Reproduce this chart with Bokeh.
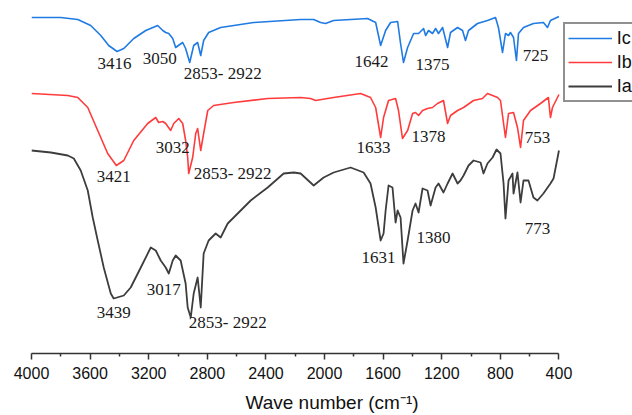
from bokeh.plotting import figure
from bokeh.models import Range1d, FixedTicker, Legend, LegendItem, ColumnDataSource
from bokeh.core.properties import value
from bokeh.embed import file_html
from bokeh.resources import INLINE

# ---- data (wave number, cm-1) and stacked transmittance (a.u.) ----
ic_wn = [4000, 3800, 3684, 3596, 3527, 3473, 3416, 3370, 3302, 3220, 3139, 3104, 3084, 3063, 3036, 3016,
         2988, 2968, 2948, 2920, 2893, 2866, 2845, 2825, 2791, 2709, 2484, 2163, 2074, 2027, 1993, 1938,
         1706, 1651, 1617, 1583, 1549, 1501, 1481, 1461, 1433, 1392, 1358, 1324, 1310, 1290, 1263, 1242,
         1222, 1194, 1160, 1140, 1092, 1058, 1038, 1017, 956, 888, 833, 813, 785, 765, 744, 731, 710, 690,
         676, 642, 574, 506, 478, 458, 400]
ic_t = [336, 336, 334, 328, 318, 308, 302, 305, 315, 323, 328, 323, 321, 320, 315, 306,
        309, 311, 305, 291, 308, 311, 298, 313, 321, 326, 331, 334, 334, 331, 330, 333,
        335, 331, 308, 323, 331, 332, 310, 291, 306, 320, 320, 325, 318, 323, 320, 325,
        320, 326, 306, 321, 326, 323, 313, 323, 330, 333, 336, 326, 301, 320, 318, 321, 316, 293,
        320, 326, 330, 331, 326, 333, 337]

ib_wn = [4000, 3752, 3684, 3616, 3548, 3480, 3421, 3370, 3302, 3207, 3152, 3132, 3104, 3084, 3050, 3029,
         2995, 2968, 2948, 2934, 2927, 2900, 2879, 2866, 2845, 2825, 2797, 2757, 2620, 2388, 2163, 2095,
         2061, 1938, 1754, 1686, 1651, 1617, 1597, 1563, 1515, 1495, 1468, 1433, 1399, 1379, 1358, 1331,
         1297, 1263, 1229, 1188, 1160, 1140, 1092, 1051, 983, 922, 888, 819, 799, 765, 744, 710, 683, 662,
         642, 594, 526, 472, 458, 444, 400]
ib_t = [260, 258, 256, 246, 223, 200, 188, 193, 213, 230, 236, 231, 232, 230, 223, 230,
        235, 230, 213, 196, 180, 196, 220, 225, 203, 220, 243, 248, 251, 255, 256, 255,
        253, 256, 260, 256, 246, 216, 236, 253, 255, 243, 215, 223, 240, 241, 238, 243,
        245, 246, 250, 253, 230, 238, 243, 246, 253, 255, 260, 256, 253, 216, 240, 241, 226, 206,
        233, 243, 250, 256, 236, 246, 259]

ia_wn = [4000, 3868, 3752, 3711, 3664, 3616, 3582, 3548, 3507, 3459, 3439, 3370, 3323, 3254, 3186, 3152,
         3118, 3084, 3063, 3036, 3016, 2982, 2948, 2934, 2913, 2893, 2866, 2845, 2825, 2791, 2743, 2709,
         2661, 2620, 2504, 2388, 2279, 2211, 2163, 2074, 2006, 1938, 1822, 1733, 1686, 1651, 1617, 1597,
         1583, 1563, 1536, 1515, 1501, 1481, 1461, 1433, 1399, 1379, 1358, 1331, 1297, 1276, 1242, 1222,
         1188, 1160, 1126, 1092, 1072, 1051, 1017, 983, 935, 915, 888, 853, 826, 799, 778, 765, 744, 717,
         710, 683, 662, 642, 608, 574, 547, 506, 458, 437, 400]
ia_t = [203, 201, 198, 195, 183, 163, 136, 113, 86, 60, 55, 58, 66, 86, 106, 103,
        93, 86, 80, 93, 98, 93, 70, 46, 36, 60, 76, 46, 100, 113, 120, 116,
        130, 136, 153, 166, 180, 181, 180, 168, 176, 181, 186, 181, 170, 146, 113, 120,
        143, 168, 166, 131, 143, 136, 90, 113, 143, 150, 141, 165, 163, 148, 166, 170,
        161, 170, 180, 170, 173, 178, 188, 193, 191, 180, 190, 196, 204, 200, 170, 135, 173, 180,
        160, 181, 151, 173, 173, 156, 153, 160, 170, 175, 203]

series_names = ["Ic", "Ib", "Ia"]
series_colors = ["#1f7be3", "#ff3b3b", "#3d3d3d"]
series_widths = [1.6, 1.6, 1.8]

peak_labels = ["3416", "3050", "2853- 2922", "1642", "1375", "725",
               "3032", "3421", "2853- 2922", "1633", "1378", "753",
               "3439", "3017", "2853- 2922", "1631", "1380", "773"]

x_major = [4000, 3600, 3200, 2800, 2400, 2000, 1600, 1200, 800, 400]
x_minor = [3800, 3400, 3000, 2600, 2200, 1800, 1400, 1000, 600]

# ---- figure ----
# frame runs to the right edge; the axis itself is bounded to 4000..400
p = figure(width=632, height=415, output_backend="svg", toolbar_location=None,
           x_range=Range1d(4000, -102), y_range=Range1d(0, 353),
           min_border_left=31, min_border_right=0, min_border_top=0, min_border_bottom=62,
           y_axis_location=None)
p.outline_line_color = None
p.xgrid.visible = False
p.ygrid.visible = False
p.background_fill_color = "white"

renderers = []
for wn, t, col, lw in zip([ic_wn, ib_wn, ia_wn], [ic_t, ib_t, ia_t], series_colors, series_widths):
    r = p.line(wn, t, line_color=col, line_width=lw, line_join="round")
    renderers.append(r)

# peak annotations (label anchor positions in data space)
lab_x = [3433, 3125, 2695, 1679, 1263, 560,
         3036, 3439, 2627, 1665, 1290, 546,
         3439, 3098, 2661, 1631, 1256, 546]
lab_y = [290, 295, 280, 292, 289, 298,
         206, 177, 180, 206, 217, 216,
         41, 64, 31, 96, 116, 125]
src = ColumnDataSource(dict(x=lab_x, y=lab_y, text=peak_labels))
p.text(x="x", y="y", text="text", source=src, text_align="center", text_baseline="middle",
       text_font=value("Liberation Serif"), text_font_size="17px", text_color="#1a1a1a")

ax = p.xaxis[0]
ax.bounds = (400, 4000)
ax.ticker = FixedTicker(ticks=x_major, minor_ticks=x_minor)
ax.major_label_overrides = {v: str(v) for v in x_major}
ax.major_tick_in = 0
ax.major_tick_out = 6
ax.minor_tick_in = 0
ax.minor_tick_out = 3
ax.axis_line_width = 1.5
ax.axis_line_color = "#333333"
ax.major_tick_line_color = "#333333"
ax.minor_tick_line_color = "#333333"
ax.major_tick_line_width = 1.5
ax.minor_tick_line_width = 1.5
ax.major_label_text_font = "Liberation Sans"
ax.major_label_text_font_size = "16px"
ax.major_label_text_color = "#111111"
ax.major_label_standoff = 7
ax.axis_label = "Wave number (cm\u207b\u00b9)"
ax.axis_label_text_font = "Liberation Sans"
ax.axis_label_text_font_size = "19px"
ax.axis_label_text_font_style = "normal"
ax.axis_label_text_color = "#111111"
ax.axis_label_standoff = 10

legend = Legend(items=[LegendItem(label=n, renderers=[r]) for n, r in zip(series_names, renderers)],
                location=(531.7, 251), glyph_width=44, glyph_height=22, label_standoff=5,
                padding=3, spacing=2, margin=0, label_text_font="Liberation Sans",
                label_text_font_size="18px", label_text_color="#111111",
                border_line_color="#222222", border_line_width=2, background_fill_alpha=1)
p.add_layout(legend, "center")

open("out.html", "w").write(file_html(p, INLINE))
